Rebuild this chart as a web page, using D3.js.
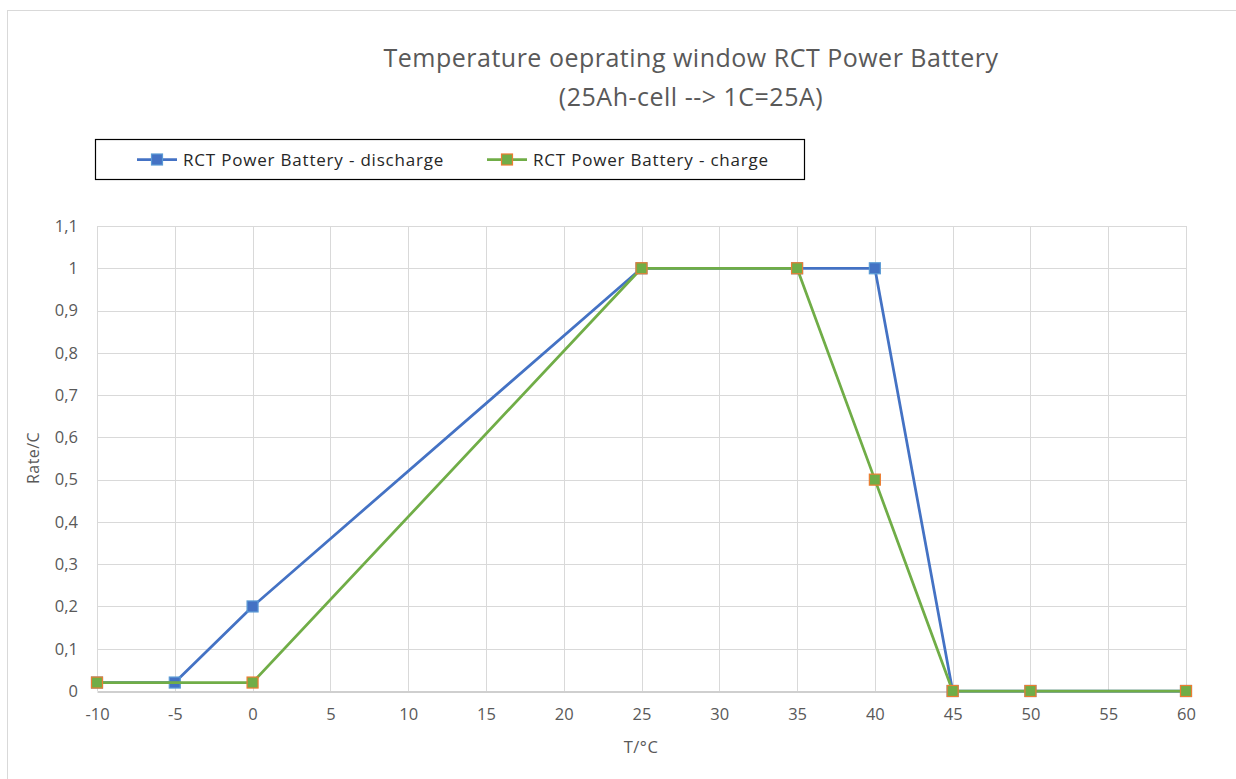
<!DOCTYPE html>
<html><head><meta charset="utf-8">
<script src="https://cdn.jsdelivr.net/npm/d3@7"></script>
<style>body{margin:0;background:#fff;} text{font-family:"Open Sans",Lato,sans-serif;}</style>
</head><body>
<svg id="c" width="1236" height="779"></svg>
<script>
const dischargeT = [-10, -5, 0, 25, 35, 40, 45, 50, 60];
const dischargeRate = [0.02, 0.02, 0.2, 1, 1, 1, 0, 0, 0];
const chargeT = [-10, 0, 25, 35, 40, 45, 50, 60];
const chargeRate = [0.02, 0.02, 1, 1, 0.5, 0, 0, 0];
const xTicks = [-10, -5, 0, 5, 10, 15, 20, 25, 30, 35, 40, 45, 50, 55, 60];
const yTicks = [0, 0.1, 0.2, 0.3, 0.4, 0.5, 0.6, 0.7, 0.8, 0.9, 1, 1.1];
const seriesNames = ["RCT Power Battery - discharge", "RCT Power Battery - charge"];
const titleLines = ["Temperature oeprating window RCT Power Battery", "(25Ah-cell --> 1C=25A)"];

const FF = "'Open Sans',Lato,sans-serif";
const svg = d3.select("#c");
// chart border
svg.append("rect").attr("x",7.5).attr("y",10.5).attr("width",1240).attr("height",780)
  .attr("fill","none").attr("stroke","#d9d9d9");

const L=97, R=1186, T=226, B=691;
const x = d3.scaleLinear().domain([-10,60]).range([L,R]);
const y = d3.scaleLinear().domain([0,1.1]).range([B,T]);
const fmt = v => String(+v.toFixed(1)).replace(".", ",");

// gridlines
svg.append("g").selectAll("line").data(yTicks.filter(d=>d>0)).join("line")
  .attr("x1",L).attr("x2",R).attr("y1",d=>Math.round(y(d))+0.5).attr("y2",d=>Math.round(y(d))+0.5)
  .attr("stroke","#d9d9d9").attr("stroke-width",1);
svg.append("g").selectAll("line").data(xTicks).join("line")
  .attr("y1",T).attr("y2",B).attr("x1",d=>Math.round(x(d))+0.5).attr("x2",d=>Math.round(x(d))+0.5)
  .attr("stroke","#d9d9d9").attr("stroke-width",1);

// x axis
const xa = svg.append("g").attr("transform",`translate(0,${B+0.5})`)
  .call(d3.axisBottom(x).tickValues(xTicks).tickSize(0).tickPadding(17).tickFormat(d=>d));
xa.select(".domain").attr("stroke","#bfbfbf").attr("stroke-width",1.3);
xa.selectAll("text").attr("fill","#595959").style("font-size","16.5px").style("font-family",FF);

const ya = svg.append("g").attr("transform",`translate(${L},0)`)
  .call(d3.axisLeft(y).tickValues(yTicks).tickSize(0).tickPadding(19).tickFormat(fmt));
ya.select(".domain").remove();
ya.selectAll("text").attr("fill","#595959").style("font-size","16.5px").style("font-family",FF);

// axis titles
svg.append("text").attr("x",641).attr("y",753).attr("text-anchor","middle")
  .attr("fill","#595959").style("font-size","16.5px").style("letter-spacing","0.5px").text("T/°C");
svg.append("text").attr("transform","translate(39,458) rotate(-90)").attr("text-anchor","middle")
  .attr("fill","#595959").style("font-size","16px").style("letter-spacing","0.4px").text("Rate/C");

// title
svg.append("g").selectAll("text").data(titleLines).join("text")
  .attr("x",691).attr("y",(d,i)=>67+i*39).attr("text-anchor","middle")
  .attr("fill","#595959").style("font-size","25px").style("letter-spacing","0.5px").text(d=>d);

// series
const series = [
  {name:seriesNames[0], xs:dischargeT, ys:dischargeRate, color:"#4472C4", mark:"#4472C4", edge:"#5B9BD5"},
  {name:seriesNames[1], xs:chargeT, ys:chargeRate, color:"#70AD47", mark:"#70AD47", edge:"#ED7D31"}
];
const line = d3.line().x(d=>x(d[0])).y(d=>y(d[1]));
const ms = 11;
series.forEach(s=>{
  const pts = s.xs.map((v,i)=>[v,s.ys[i]]);
  svg.append("path").datum(pts).attr("d",line).attr("fill","none")
    .attr("stroke",s.color).attr("stroke-width",2.75).attr("stroke-linejoin","round");
  svg.append("g").selectAll("rect").data(pts).join("rect")
    .attr("x",d=>x(d[0])-ms/2).attr("y",d=>y(d[1])-ms/2).attr("width",ms).attr("height",ms)
    .attr("fill",s.mark).attr("stroke",s.edge).attr("stroke-width",1.2);
});

// legend
svg.append("rect").attr("x",95.5).attr("y",139.5).attr("width",709).attr("height",40)
  .attr("fill","#fff").attr("stroke","#000").attr("stroke-width",1.2);
const lx = [137, 487];
series.forEach((s,i)=>{
  const g = svg.append("g");
  g.append("line").attr("x1",lx[i]).attr("x2",lx[i]+40).attr("y1",159.5).attr("y2",159.5)
    .attr("stroke",s.color).attr("stroke-width",2.75);
  g.append("rect").attr("x",lx[i]+20-ms/2).attr("y",159.5-ms/2).attr("width",ms).attr("height",ms)
    .attr("fill",s.mark).attr("stroke",s.edge).attr("stroke-width",1.2);
  g.append("text").attr("x",lx[i]+46).attr("y",165.5).attr("fill","#262626")
    .style("font-size","17px").style("letter-spacing","0.8px").text(s.name);
});
</script>
</body></html>
